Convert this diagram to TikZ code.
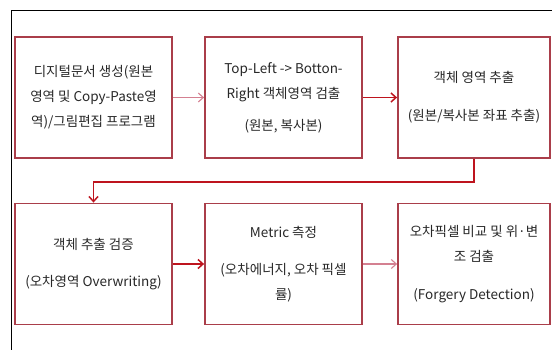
\documentclass[tikz,border=0pt]{standalone}
\usepackage{fontspec}
\setmainfont{Noto Sans CJK KR}
\usetikzlibrary{arrows.meta}
\definecolor{boxred}{RGB}{170,62,74}
\definecolor{darkarrow}{RGB}{190,20,30}
\definecolor{pinkarrow}{RGB}{212,128,145}
\definecolor{textgray}{RGB}{40,40,40}
\begin{document}
\begin{tikzpicture}[x=1pt,y=-1pt,
  stepbox/.style={draw=boxred, line width=1.8pt, fill=white, inner sep=0pt,
    minimum width=157pt, minimum height=121pt, align=center, text=textgray,
    font=\fontsize{13.5}{25}\selectfont},
  strong/.style={draw=darkarrow, line width=1.5pt, -{Straight Barb[length=5pt,width=9pt]}},
  weak/.style={draw=pinkarrow, line width=1.1pt, -{Straight Barb[length=5pt,width=9pt]}}]
\useasboundingbox (0,0) rectangle (552,349);
\fill[white] (0,0) rectangle (552,349);
\draw[black, line width=0.8pt] (11,352) -- (11,10) -- (556,10);
\node[stepbox] (b1) at (93.5,97.5) {디지털문서 생성(원본\\영역 및 Copy-Paste영\\역)/그림편집 프로그램};
\node[stepbox] (b2) at (283.5,97.5) {Top-Left -> Botton-\\Right 객체영역 검출\\[7pt](원본, 복사본)};
\node[stepbox, minimum width=152pt] (b3) at (474,97.5) {객체 영역 추출\\[13pt](원본/복사본 좌표 추출)};
\node[stepbox] (b4) at (93.5,264) {객체 추출 검증\\[12pt](오차영역 Overwriting)};
\node[stepbox] (b5) at (283.5,264) {Metric 측정\\[12pt](오차에너지, 오차 픽셀\\률)};
\node[stepbox, minimum width=152pt] (b6) at (474,264) {오차픽셀 비교 및 위·변\\조 검출\\[13pt](Forgery Detection)};
\coordinate (turn) at (0,182);
\draw[weak] (b1.east) -- (b2.west);
\draw[strong] (b2.east) -- (b3.west);
\draw[strong] (b3.south) -- (b3.south |- turn) -| (b4.north);
\draw[strong] (b4.east) -- (b5.west);
\draw[weak] (b5.east) -- (b6.west);
\end{tikzpicture}
\end{document}
